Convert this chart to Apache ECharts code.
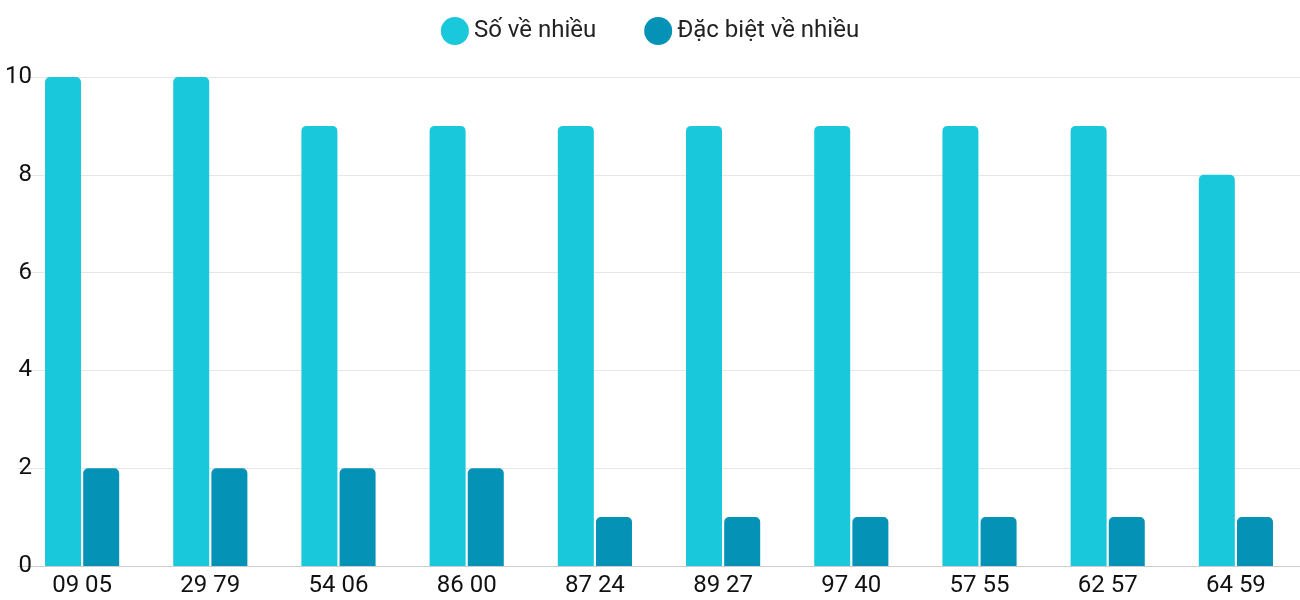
<!DOCTYPE html>
<html>
<head>
<meta charset="utf-8">
<script src="https://cdn.jsdelivr.net/npm/echarts@6/dist/echarts.min.js"></script>
<style>html,body{margin:0;padding:0}#chart{width:1300px;height:600px}</style>
</head>
<body>
<div id="chart"></div>
<script>
const categories = ['09 05', '29 79', '54 06', '86 00', '87 24', '89 27', '97 40', '57 55', '62 57', '64 59'];
const soVeNhieu = [10, 10, 9, 9, 9, 9, 9, 9, 9, 8];
const dacBietVeNhieu = [2, 2, 2, 2, 1, 1, 1, 1, 1, 1];

const chart = echarts.init(document.getElementById('chart'));
chart.setOption({
  textStyle: { fontFamily: 'Roboto' },
  legend: {
    top: 12,
    itemWidth: 28,
    itemHeight: 28,
    itemGap: 48,
    icon: 'circle',
    textStyle: { fontSize: 24, color: '#222' },
    data: ['Số về nhiều', 'Đặc biệt về nhiều']
  },
  grid: { left: 18, right: -47, top: 77, bottom: 34, containLabel: false },
  xAxis: {
    type: 'category',
    data: categories,
    axisTick: { show: false },
    axisLine: { lineStyle: { color: '#ccc' } },
    axisLabel: { fontSize: 24, color: '#111', margin: 8 }
  },
  yAxis: {
    type: 'value',
    min: 0,
    max: 10,
    interval: 2,
    axisLabel: { fontSize: 24, color: '#111', margin: -14 },
    splitLine: { lineStyle: { color: '#e6e6e6' } }
  },
  series: [
    {
      name: 'Số về nhiều',
      type: 'bar',
      data: soVeNhieu,
      barWidth: 36,
      barGap: '6%',
      itemStyle: { color: '#1ac8dc', borderRadius: [5, 5, 0, 0] }
    },
    {
      name: 'Đặc biệt về nhiều',
      type: 'bar',
      data: dacBietVeNhieu,
      barWidth: 36,
      itemStyle: { color: '#0492b6', borderRadius: [5, 5, 0, 0] }
    }
  ]
});
</script>
</body>
</html>
